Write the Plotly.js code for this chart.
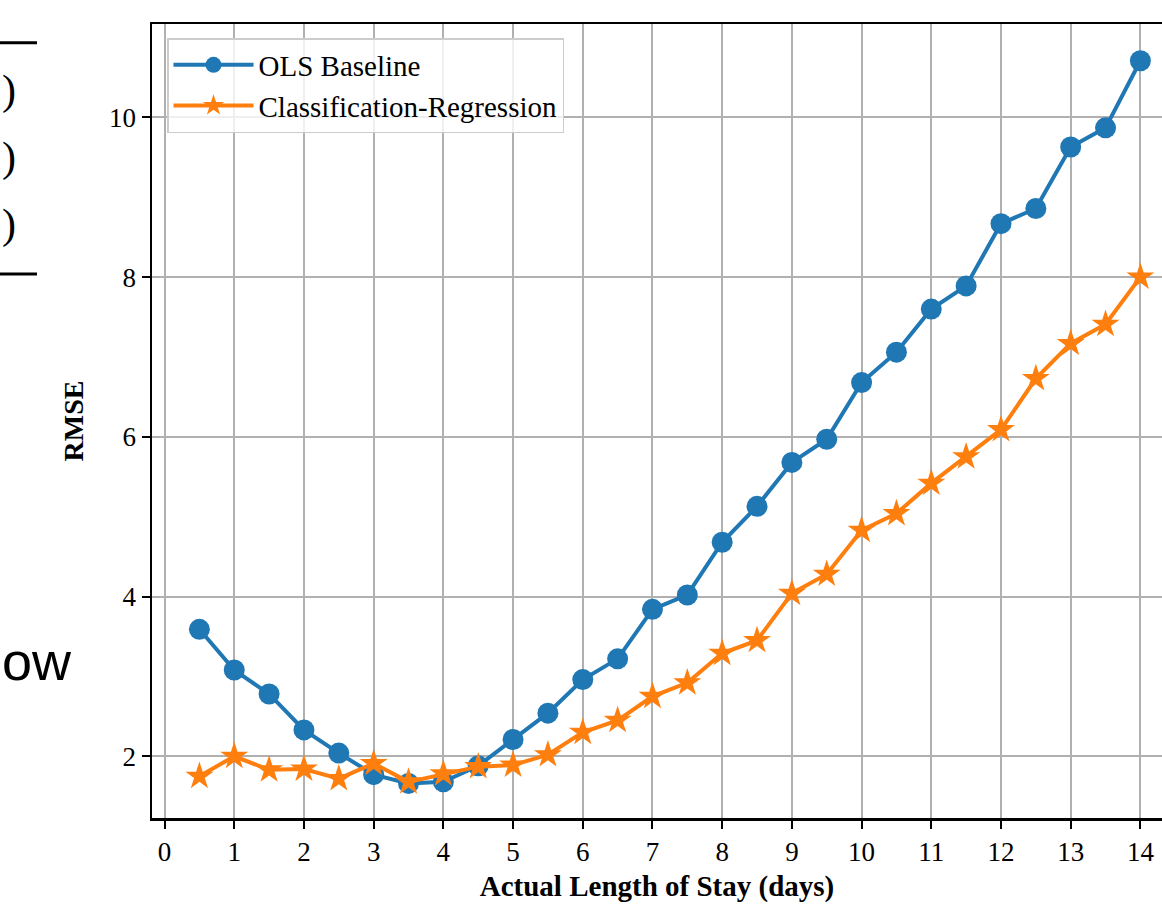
<!DOCTYPE html>
<html>
<head>
<meta charset="utf-8">
<script src="https://cdn.plot.ly/plotly-3.0.1.min.js"></script>
<style>
  html, body { margin: 0; padding: 0; background: #ffffff; }
  #chart { width: 1162px; height: 905px; }
</style>
</head>
<body>
<div id="chart"></div>
<script>
// Actual length of stay (days)
const stayDays = [0.5, 1, 1.5, 2, 2.5, 3, 3.5, 4, 4.5, 5, 5.5, 6, 6.5, 7, 7.5, 8, 8.5, 9, 9.5, 10, 10.5, 11, 11.5, 12, 12.5, 13, 13.5, 14];
// RMSE values
const olsBaseline = [3.59, 3.08, 2.78, 2.33, 2.04, 1.77, 1.66, 1.68, 1.88, 2.21, 2.54, 2.96, 3.22, 3.84, 4.02, 4.68, 5.13, 5.68, 5.97, 6.68, 7.06, 7.60, 7.89, 8.67, 8.86, 9.63, 9.87, 10.71];
const classReg = [1.75, 2.00, 1.83, 1.84, 1.72, 1.91, 1.68, 1.78, 1.87, 1.89, 2.02, 2.30, 2.45, 2.75, 2.92, 3.29, 3.45, 4.04, 4.28, 4.83, 5.04, 5.42, 5.75, 6.09, 6.73, 7.17, 7.41, 8.00];
const seriesNames = ["OLS Baseline", "Classification-Regression"];
const xTickVals = [0, 1, 2, 3, 4, 5, 6, 7, 8, 9, 10, 11, 12, 13, 14];
const yTickVals = [2, 4, 6, 8, 10];

const serif = "Liberation Serif, Times New Roman, serif";

const traces = [
  {
    x: stayDays, y: olsBaseline, name: seriesNames[0],
    type: "scatter", mode: "lines+markers",
    line: { color: "#1f77b4", width: 4 },
    marker: { symbol: "circle", size: 21, color: "#1f77b4" }
  },
  {
    x: stayDays, y: classReg, name: seriesNames[1],
    type: "scatter", mode: "lines+markers",
    line: { color: "#ff7f0e", width: 4 },
    marker: { symbol: "star", size: 21, color: "#ff7f0e" }
  }
];

const px = (p) => (p - 152) / 1010;   // pixel x -> paper x
const py = (p) => (818 - p) / 794;    // pixel y -> paper y

const layout = {
  width: 1162, height: 905,
  margin: { l: 152, r: 0, t: 24, b: 87, pad: 0 },
  paper_bgcolor: "#ffffff", plot_bgcolor: "#ffffff",
  showlegend: true,
  font: { family: serif, color: "#000000", size: 27 },
  xaxis: {
    range: [-0.18, 14.31],
    tickmode: "array", tickvals: xTickVals, ticktext: xTickVals.map(String),
    ticks: "outside", ticklen: 8, tickwidth: 2, tickcolor: "#000000",
    showline: true, linecolor: "#000000", linewidth: 2.5, mirror: true,
    showgrid: true, gridcolor: "#b0b0b0", gridwidth: 2,
    zeroline: false,
    tickfont: { family: serif, size: 27, color: "#000000" },
    title: { text: "Actual Length of Stay (days)", font: { family: serif, size: 29, color: "#000000", weight: "bold" }, standoff: 10 },
    automargin: false
  },
  yaxis: {
    range: [1.227, 11.17],
    tickmode: "array", tickvals: yTickVals, ticktext: yTickVals.map(String),
    ticks: "outside", ticklen: 8, tickwidth: 2, tickcolor: "#000000",
    showline: true, linecolor: "#000000", linewidth: 2.5, mirror: false,
    showgrid: true, gridcolor: "#b0b0b0", gridwidth: 2,
    zeroline: false,
    tickfont: { family: serif, size: 27, color: "#000000" },
    title: { text: "RMSE", font: { family: serif, size: 28, color: "#000000", weight: "bold" }, standoff: 18 },
    automargin: false
  },
  legend: {
    x: px(167), y: py(38), xanchor: "left", yanchor: "top",
    bgcolor: "rgba(255,255,255,0.8)", bordercolor: "#cccccc", borderwidth: 1.5,
    font: { family: serif, size: 29, color: "#000000" },
    itemwidth: 80, tracegroupgap: 0
  },
  shapes: [
    { type: "line", xref: "paper", yref: "paper", x0: px(-5), x1: px(37), y0: py(42.7), y1: py(42.7), line: { color: "#000000", width: 3 } },
    { type: "line", xref: "paper", yref: "paper", x0: px(-5), x1: px(37), y0: py(274), y1: py(274), line: { color: "#000000", width: 3 } }
  ],
  annotations: [
    { xref: "paper", yref: "paper", x: px(0), y: py(90), xanchor: "left", yanchor: "middle", text: ")", showarrow: false, font: { family: serif, size: 42, color: "#000000" } },
    { xref: "paper", yref: "paper", x: px(0), y: py(157), xanchor: "left", yanchor: "middle", text: ")", showarrow: false, font: { family: serif, size: 42, color: "#000000" } },
    { xref: "paper", yref: "paper", x: px(0), y: py(224), xanchor: "left", yanchor: "middle", text: ")", showarrow: false, font: { family: serif, size: 42, color: "#000000" } },
    { xref: "paper", yref: "paper", x: px(0), y: py(661), xanchor: "left", yanchor: "middle", text: "ow", showarrow: false, font: { family: "Liberation Sans, Arial, sans-serif", size: 54, color: "#000000" } }
  ]
};

Plotly.newPlot("chart", traces, layout, { displayModeBar: false, staticPlot: true });
</script>
</body>
</html>
